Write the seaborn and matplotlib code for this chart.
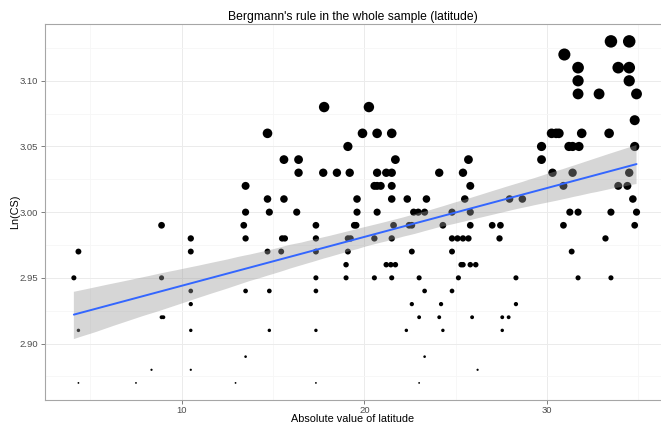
import matplotlib
matplotlib.use("Agg")
import matplotlib.pyplot as plt
import seaborn as sns
import pandas as pd
import numpy as np
from matplotlib.ticker import MultipleLocator, FormatStrFormatter
from matplotlib.collections import PolyCollection

# Absolute latitude of each sample and its log body size
latitude = [
    4.1, 4.35, 4.35, 4.35, 7.5, 8.35, 8.9, 8.9, 8.9, 9.0,
    10.5, 10.5, 10.5, 10.5, 10.5, 10.5, 12.95,
    13.5, 13.5, 13.4, 13.5, 13.5, 13.5,
    14.7, 14.7, 14.8, 14.7, 14.8, 14.8,
    15.45, 15.5, 15.6, 15.6, 15.65,
    16.4, 16.4, 16.3,
    17.35, 17.35, 17.35, 17.35, 17.35, 17.35, 17.35,
    17.8, 17.75, 18.5,
    19.1, 19.1, 19.1, 19.0, 19.0, 19.2, 19.25, 19.45, 19.55, 19.6, 19.6,
    19.9, 20.25,
    20.55, 20.55, 20.55, 20.7, 20.7, 20.7, 20.7, 20.9,
    21.2, 21.2, 21.5, 21.5, 21.5, 21.5, 21.5, 21.5, 21.45, 21.6, 21.7, 21.7,
    22.3, 22.35, 22.45, 22.6, 22.6, 22.6, 22.7,
    22.95, 23.0, 23.0, 23.0, 23.3, 23.3, 23.3, 23.4,
    24.1, 24.1, 24.2, 24.3, 24.3, 24.8, 24.8, 24.8, 24.8,
    25.15, 25.1, 25.4, 25.4, 25.4, 25.3, 25.5, 25.7, 25.7,
    25.8, 25.8, 25.8, 25.8, 25.9, 26.1, 26.2,
    27.0, 27.45, 27.4, 27.55, 27.55, 27.9, 27.95, 28.3, 28.3, 28.65,
    29.7, 29.7, 30.25, 30.3, 30.5, 30.65, 30.9, 30.9, 30.95,
    31.2, 31.4, 31.25, 31.35, 31.4,
    31.7, 31.7, 31.7, 31.75, 31.7, 31.7, 31.9,
    32.85, 33.2, 33.4, 33.5, 33.5, 33.5, 33.9, 33.9, 34.4,
    34.5, 34.5, 34.5, 34.5, 34.7, 34.8, 34.8, 34.8, 34.9, 34.9,
]
ln_cs = [
    2.95, 2.97, 2.91, 2.87, 2.87, 2.88, 2.99, 2.95, 2.92, 2.92,
    2.98, 2.97, 2.94, 2.93, 2.91, 2.88, 2.87,
    3.02, 3.00, 2.99, 2.98, 2.94, 2.89,
    3.06, 3.01, 3.00, 2.97, 2.94, 2.91,
    2.97, 2.98, 3.04, 3.01, 2.98,
    3.04, 3.03, 3.00,
    2.99, 2.98, 2.97, 2.95, 2.94, 2.91, 2.87,
    3.08, 3.03, 3.03,
    3.05, 2.98, 2.97, 2.96, 2.95, 3.03, 2.98, 2.99, 2.99, 3.01, 3.00,
    3.06, 3.08,
    3.02, 2.98, 2.95, 3.06, 3.03, 3.02, 3.00, 3.02,
    3.03, 2.96, 3.06, 3.03, 3.02, 3.01, 2.98, 2.95, 2.96, 2.99, 3.04, 2.96,
    2.91, 3.01, 2.99, 2.99, 2.97, 2.93, 3.00,
    3.00, 2.95, 2.92, 2.87, 3.00, 2.94, 2.89, 3.01,
    3.03, 2.92, 2.93, 2.99, 2.91, 3.00, 2.98, 2.97, 2.94,
    2.95, 2.98, 3.03, 2.98, 2.96, 2.96, 3.01, 3.04, 2.98,
    3.02, 3.00, 2.99, 2.96, 2.92, 2.96, 2.88,
    2.99, 2.99, 2.98, 2.92, 2.91, 2.92, 3.01, 2.95, 2.93, 3.01,
    3.05, 3.04, 3.06, 3.03, 3.06, 3.06, 3.02, 2.99, 3.12,
    3.05, 3.05, 3.00, 2.97, 3.03,
    3.11, 3.10, 3.09, 3.05, 3.00, 2.95, 3.06,
    3.09, 2.98, 3.06, 3.13, 3.00, 2.95, 3.11, 3.02, 3.02,
    3.13, 3.11, 3.10, 3.03, 3.01, 3.07, 3.05, 2.99, 3.09, 3.00,
]

df = pd.DataFrame({"lat": latitude, "lncs": ln_cs})

sns.set_theme(style="white")
plt.rcParams["font.family"] = ["Liberation Sans", "DejaVu Sans"]

DPI = 100
fig = plt.figure(figsize=(6.61, 4.25), dpi=DPI)
ax = fig.add_axes([45 / 661, 1 - 400 / 425, (661 - 45) / 661, (400 - 24.3) / 425])

# Marker diameter grows linearly with Ln(CS)
vmin, vmax = min(ln_cs), max(ln_cs)
d_lo, d_hi = 1.8, 12.5  # pixels
px_to_pt = 72 / DPI
size_map = {
    v: ((d_lo + (d_hi - d_lo) * (v - vmin) / (vmax - vmin)) * px_to_pt) ** 2
    for v in sorted(set(ln_cs))
}

sns.scatterplot(data=df, x="lat", y="lncs", size="lncs", sizes=size_map,
                color="black", linewidth=0, legend=False, ax=ax, zorder=2)

sns.regplot(data=df, x="lat", y="lncs", scatter=False, ci=95, seed=3,
            color="#999999", ax=ax,
            line_kws={"color": "#3366FF", "linewidth": 1.4, "zorder": 4})
for coll in ax.collections:
    if isinstance(coll, PolyCollection):
        coll.set_alpha(0.4)
        coll.set_facecolor("#999999")
        coll.set_edgecolor("none")
        coll.set_zorder(3)

ax.set_xlim(2.52, 36.24)
ax.set_ylim(2.857, 3.143)
ax.xaxis.set_major_locator(MultipleLocator(10))
ax.xaxis.set_minor_locator(MultipleLocator(5))
ax.yaxis.set_major_locator(MultipleLocator(0.05))
ax.yaxis.set_minor_locator(MultipleLocator(0.025))
ax.yaxis.set_major_formatter(FormatStrFormatter("%.2f"))

ax.grid(True, which="major", color="#EBEBEB", linewidth=0.7, zorder=0)
ax.grid(True, which="minor", color="#F6F6F6", linewidth=0.6, zorder=0)
ax.set_axisbelow(True)

for side in ["left", "bottom", "top"]:
    ax.spines[side].set_color("#A6A6A6")
    ax.spines[side].set_linewidth(0.8)
ax.spines["right"].set_visible(False)

ax.tick_params(axis="both", which="major", direction="out", length=3,
               width=0.7, color="#7F7F7F", labelcolor="#4D4D4D",
               labelsize=6.8, left=True, bottom=True)
ax.tick_params(axis="x", which="major", pad=1.5)
ax.tick_params(axis="y", which="major", pad=2)
ax.tick_params(axis="both", which="minor", length=0)

ax.set_xlabel("Absolute value of latitude", fontsize=7.8, color="black",
              va="baseline")
ax.set_ylabel("Ln(CS)", fontsize=7.8, color="black")
ax.xaxis.set_label_coords(0.5, -0.0586)
ax.yaxis.set_label_coords(-0.041, 0.5)
ax.set_title("Bergmann's rule in the whole sample (latitude)", fontsize=8.7,
             color="black", pad=3)

fig.savefig("out.png", dpi=DPI)
